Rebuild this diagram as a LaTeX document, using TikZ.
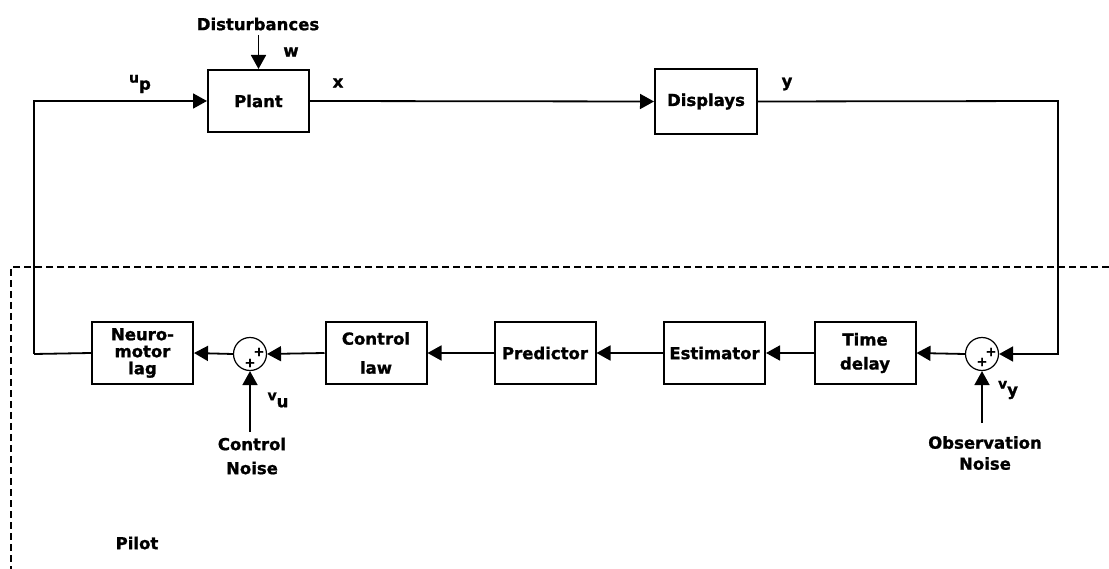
\documentclass[tikz,border=0pt]{standalone}
\usepackage{fontspec}
\setmainfont{DejaVu Sans}[BoldFeatures={FakeBold=1.2}]
\usetikzlibrary{arrows.meta}
\begin{document}
\begin{tikzpicture}[x=1pt,y=-1pt,
  txt/.style={font=\bfseries\fontsize{16.5}{17}\selectfont},
  blk/.style={txt,draw,line width=2pt,minimum width=101pt,minimum height=62pt,inner sep=0pt,align=center},
  lbl/.style={txt,inner sep=0pt,align=center},
  sumc/.style={draw,circle,line width=1.2pt,minimum size=33pt,inner sep=0pt},
  ar/.style={line width=1.8pt,-{Triangle[length=14pt,width=15pt]}},
  ln/.style={line width=1.8pt},
  pls/.style={font=\bfseries\fontsize{13}{13}\selectfont,inner sep=0pt}]
\useasboundingbox (0,0) rectangle (1109,569);
\fill[white] (0,0) rectangle (1109,569);
% top row
\node[blk] (plant) at (258.5,101) {Plant};
\node[blk,minimum width=102pt,minimum height=65pt] (disp) at (706,101.5) {Displays};
\coordinate (dtop) at (258.5,35);
\node[lbl] (dist) at (258,24) {Disturbances};
\node[lbl] (w) at (291,52) {w};
\node[lbl] (up) at (140,84) {\fontsize{14}{14}\selectfont u\raisebox{-0.5em}{\fontsize{16.5}{16.5}\selectfont p}};
\node[lbl] (xl) at (338,83) {x};
\node[lbl] (yl) at (787,84) {y};
% bottom row
\node[blk] (neuro) at (142.5,353) {\fontsize{16.5}{16}\selectfont Neuro-\\motor\\lag};
\node[sumc] (s1) at (250,354) {};
\node[blk] (claw) at (376,353) {Control\\[12pt]law};
\node[blk] (pred) at (545,353) {Predictor};
\node[blk] (est) at (714.5,353) {Estimator};
\node[blk] (tdel) at (865,353) {Time\\[7pt]delay};
\node[sumc] (s2) at (982,354) {};
\node[pls] at (259,352) {+};
\node[pls] at (250,363) {+};
\node[pls] at (991,352) {+};
\node[pls] at (982,362) {+};
\node[lbl] (cn) at (252,456) {Control\\[7pt]Noise};
\node[lbl] (on) at (985,453) {Observation\\[4pt]Noise};
\coordinate (cnt) at (250,432);
\coordinate (ont) at (982,423);
\node[lbl] (vu) at (278,400) {\fontsize{14}{14}\selectfont v\raisebox{-0.5em}{\fontsize{16.5}{16.5}\selectfont u}};
\node[lbl] (vy) at (1008,390) {\fontsize{14}{14}\selectfont v\raisebox{-0.5em}{\fontsize{16.5}{16.5}\selectfont y}};
\node[lbl] (pilot) at (137,543) {Pilot};
\coordinate (lc) at (34,101);
\coordinate (lb) at (34,354);
\coordinate (rc) at (1058,101);
\coordinate (rb) at (1058,354);
% connectors
\draw[ar] (dtop) -- (plant.north);
\draw[ar] (lb) -- (lc) -- (plant.west);
\draw[ar] (plant.east) -- (disp.west);
\draw[ar] (disp.east) -- (rc) -- (rb) -- (s2.east);
\draw[ar] (s2.west) -- (tdel.east);
\draw[ar] (tdel.west) -- (est.east);
\draw[ar] (est.west) -- (pred.east);
\draw[ar] (pred.west) -- (claw.east);
\draw[ar] (claw.west) -- (s1.east);
\draw[ar] (s1.west) -- (neuro.east);
\draw[ln] (neuro.west) -- (lb);
\draw[ar] (cnt) -- (s1.south);
\draw[ar] (ont) -- (s2.south);
% pilot boundary
\draw[line width=1.6pt,dash pattern=on 7pt off 4pt] (1109,267) -- (11,267) -- (11,569);
\end{tikzpicture}
\end{document}
